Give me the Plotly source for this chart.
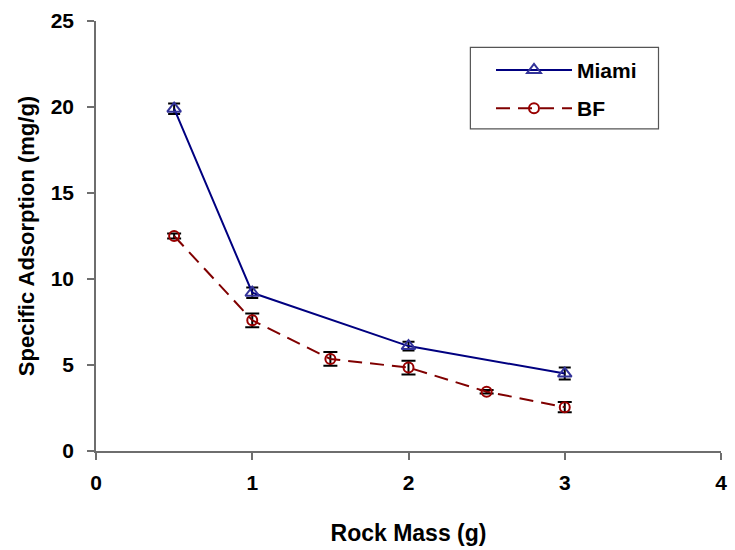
import plotly.graph_objects as go

# Rock mass (g) and specific adsorption (mg/g)
miami_mass = [0.5, 1, 2, 3]
miami_ads = [19.9, 9.2, 6.1, 4.5]
miami_err = [0.3, 0.3, 0.25, 0.35]

bf_mass = [0.5, 1, 1.5, 2, 2.5, 3]
bf_ads = [12.5, 7.6, 5.35, 4.85, 3.45, 2.55]
bf_err = [0.15, 0.4, 0.4, 0.4, 0.1, 0.3]

x_ticks = [0, 1, 2, 3, 4]
y_ticks = [0, 5, 10, 15, 20, 25]

FONT = "Liberation Sans, Arial, sans-serif"
AXIS_GREY = "#6e6e6e"

fig = go.Figure()
fig.add_trace(go.Scatter(
    x=miami_mass, y=miami_ads, name="Miami", mode="lines+markers",
    legendgroup="miami",
    line=dict(color="#000080", width=2),
    marker=dict(symbol="triangle-up-open", size=12, color="#333399",
                line=dict(width=2, color="#333399")),
    error_y=dict(type="data", array=miami_err, color="black", thickness=2, width=6),
))
fig.add_trace(go.Scatter(
    x=bf_mass, y=bf_ads, name="BF", mode="lines+markers",
    legendgroup="bf",
    line=dict(color="#800000", width=2, dash="14px,8px"),
    marker=dict(symbol="circle-open", size=10, color="#990000",
                line=dict(width=2, color="#990000")),
    error_y=dict(type="data", array=bf_err, color="black", thickness=2, width=7),
))

# legend frame
fig.add_shape(type="rect", xref="paper", yref="paper",
              x0=0.599, x1=0.900, y0=0.749, y1=0.9387,
              line=dict(color="#555555", width=1.2), fillcolor="white", layer="below")

fig.update_layout(
    width=735, height=550,
    margin=dict(l=96, r=8, t=21, b=97),
    plot_bgcolor="white", paper_bgcolor="white",
    font=dict(family=FONT, size=20, color="black", weight="bold"),
    showlegend=True,
    legend=dict(
        x=0.632, y=0.933, xanchor="left", yanchor="top",
        borderwidth=0, bgcolor="rgba(0,0,0,0)",
        font=dict(family=FONT, size=21, color="black", weight="bold"),
        itemwidth=76, traceorder="grouped", tracegroupgap=8,
    ),
    xaxis=dict(
        range=[0, 4], tickvals=x_ticks,
        showgrid=False, zeroline=False, showline=True, linecolor=AXIS_GREY, linewidth=1.5,
        ticks="outside", ticklen=7, tickcolor=AXIS_GREY, tickwidth=1.5,
        ticklabelstandoff=5,
        title=dict(text="Rock Mass (g)", font=dict(size=23, weight="bold"), standoff=32),
        tickfont=dict(size=21, weight="bold"),
    ),
    yaxis=dict(
        range=[0, 25], tickvals=y_ticks,
        showgrid=False, zeroline=False, showline=True, linecolor=AXIS_GREY, linewidth=1.5,
        ticks="outside", ticklen=7, tickcolor=AXIS_GREY, tickwidth=1.5,
        ticklabelstandoff=9,
        title=dict(text="Specific Adsorption (mg/g)", font=dict(size=22, weight="bold"), standoff=10),
        tickfont=dict(size=21, weight="bold"),
    ),
)

fig.write_html("out.html")
